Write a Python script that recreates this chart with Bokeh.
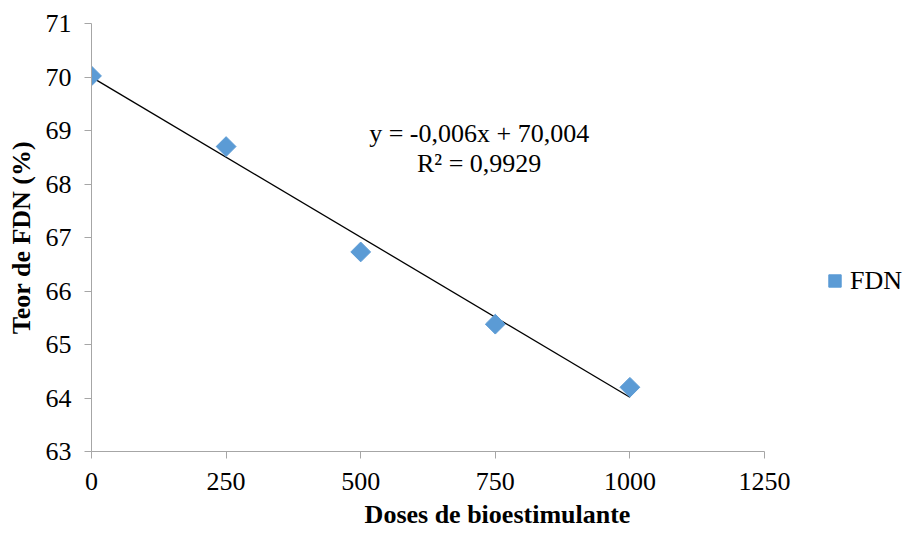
import numpy as np
from bokeh.plotting import figure
from bokeh.models import Range1d, Label, Legend, LegendItem, FixedTicker, ColumnDataSource
from bokeh.embed import file_html
from bokeh.resources import INLINE

doses = [0, 250, 500, 750, 1000]
fdn = [70.02, 68.70, 66.73, 65.38, 64.20]
x_ticks = [0, 250, 500, 750, 1000, 1250]
y_ticks = [63, 64, 65, 66, 67, 68, 69, 70, 71]
equation = "y = -0,006x + 70,004"
r2_text = "R² = 0,9929"
series_name = "FDN"

FONT = "Liberation Serif"
BLUE = "#5B9BD5"

W, H = 903, 531
LEFT, RIGHT, TOP, BOTTOM = 91, 0, 23, 79
AXIS_END_PX = 764  # pixel where x = 1250 sits
frame_w = W - LEFT - RIGHT
x_end = 1250 * frame_w / (AXIS_END_PX - LEFT)

p = figure(width=W, height=H, output_backend="svg", toolbar_location=None,
           x_range=Range1d(0, x_end), y_range=Range1d(63, 71),
           min_border_left=LEFT, min_border_right=RIGHT, min_border_top=TOP, min_border_bottom=BOTTOM)
p.outline_line_color = None
p.xgrid.visible = False
p.ygrid.visible = False
p.background_fill_color = "white"

for ax in (p.xaxis[0], p.yaxis[0]):
    ax.axis_line_color = "#a6a6a6"
    ax.major_tick_line_color = "#a6a6a6"
    ax.minor_tick_line_color = None
    ax.major_tick_in = 0
    ax.major_tick_out = 7
    ax.major_label_text_font = FONT
    ax.major_label_text_font_size = "26px"
    ax.major_label_text_color = "black"
    ax.axis_label_text_font = FONT
    ax.axis_label_text_font_size = "26px"
    ax.axis_label_text_font_style = "bold"
    ax.axis_label_text_color = "black"

p.xaxis.ticker = FixedTicker(ticks=x_ticks)
p.yaxis.ticker = FixedTicker(ticks=y_ticks)
p.xaxis.bounds = (0, 1250)
p.xaxis.axis_label = "Doses de bioestimulante"
p.yaxis.axis_label = "Teor de FDN (%)"
p.xaxis.major_label_standoff = 14
p.yaxis.major_label_standoff = 13
p.xaxis.axis_label_standoff = 7
p.yaxis.axis_label_standoff = 7

# trendline from least squares fit
coef = np.polyfit(doses, fdn, 1)
xt = [doses[0], doses[-1]]
yt = [coef[0] * xv + coef[1] for xv in xt]
p.line(xt, yt, line_color="black", line_width=1.3)

src = ColumnDataSource(dict(x=doses, y=fdn, ang=[np.pi / 4] * len(doses)))
pts = p.scatter("x", "y", source=src, marker="square", size=14, angle="ang",
                fill_color=BLUE, line_color=BLUE)

p.add_layout(Label(x=720, y=68.95, text=equation, text_align="center", text_baseline="middle",
                   text_font=FONT, text_font_size="26px", text_color="black"))
p.add_layout(Label(x=720, y=68.39, text=r2_text, text_align="center", text_baseline="middle",
                   text_font=FONT, text_font_size="26px", text_color="black"))

legend = Legend(items=[LegendItem(label=series_name, renderers=[pts], index=0)], location=(728, 155),
                padding=0, margin=0, border_line_color=None, background_fill_alpha=0,
                glyph_width=31, glyph_height=31, label_standoff=-6,
                label_text_font=FONT, label_text_font_size="26px", label_text_color="black")
p.add_layout(legend, "center")

open("out.html", "w").write(file_html(p, INLINE))
